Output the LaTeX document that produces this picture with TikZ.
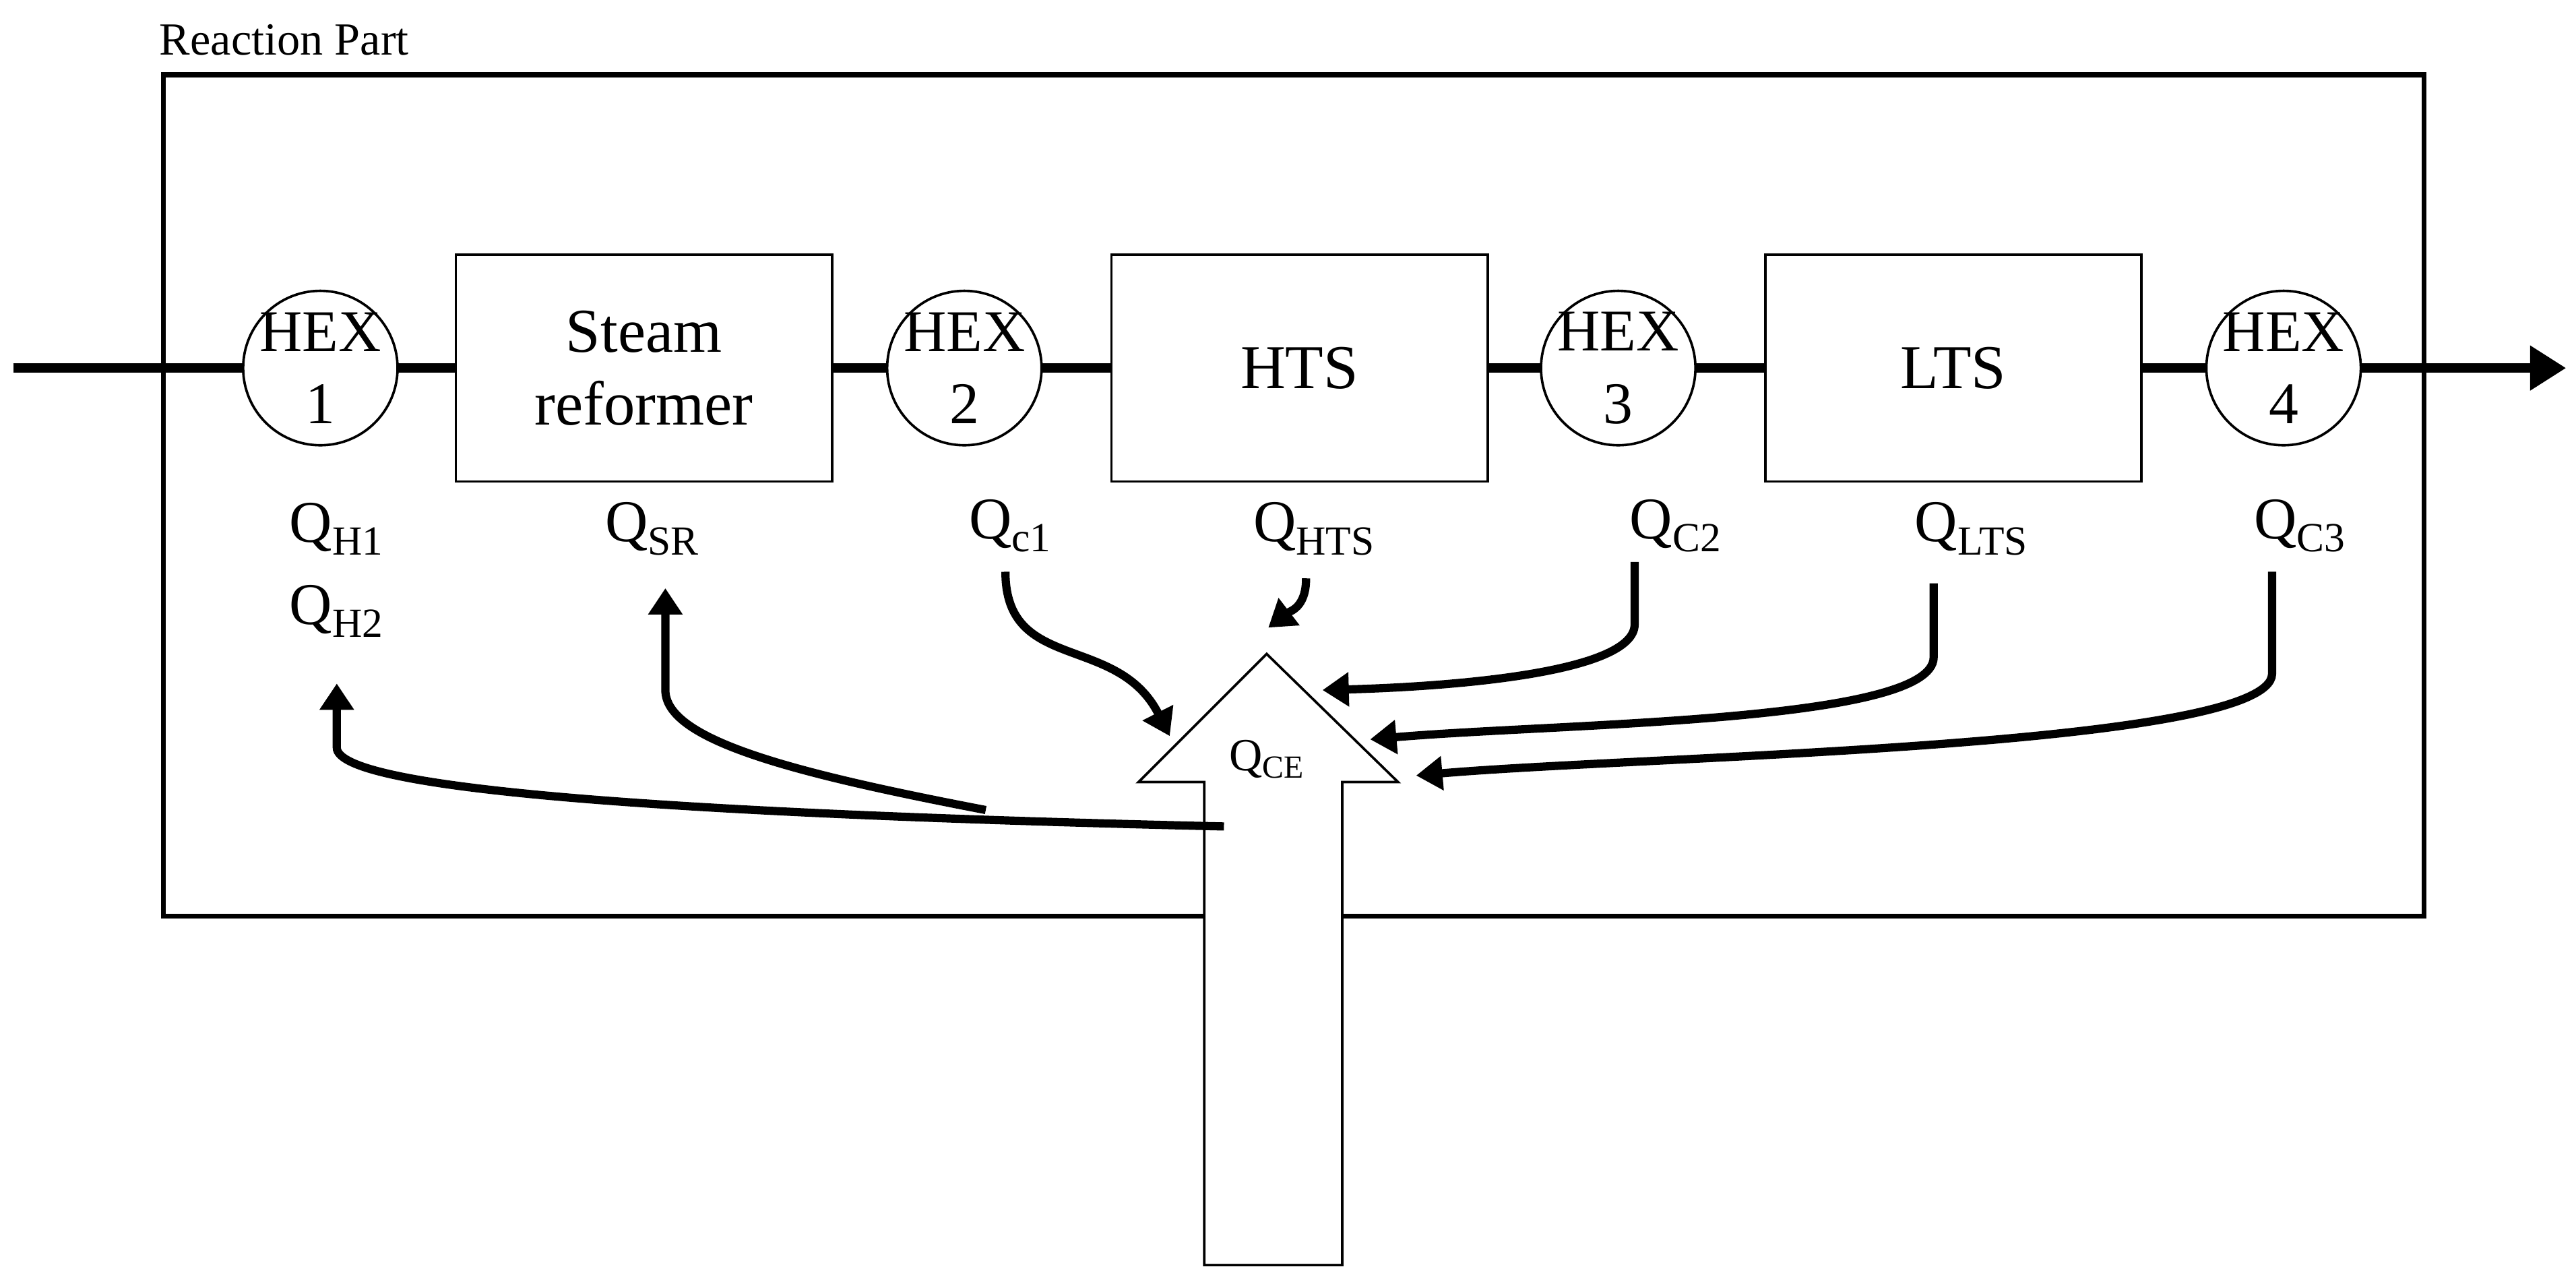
\documentclass[tikz,border=0pt]{standalone}
\usepackage{fontspec}
\setmainfont{Liberation Serif}
\usetikzlibrary{arrows.meta}
\begin{document}
\begin{tikzpicture}[x=1pt,y=-1pt,
 hex/.style={circle,draw,line width=1.5pt,fill=white,minimum size=94pt,inner sep=-8pt,align=center,font=\fontsize{36}{44}\selectfont},
 box/.style={draw,line width=1.5pt,fill=white,minimum width=229pt,minimum height=138pt,align=center,font=\fontsize{38}{44}\selectfont},
 q/.style={font=\fontsize{36}{40}\selectfont},
 flow/.style={line width=6pt,-{Triangle[length=22pt,width=26pt]}},
 heat/.style={line width=5pt,-{Triangle[length=16pt,width=20pt]}}]
\useasboundingbox (0,0) rectangle (1568,776);
\node[anchor=south west,font=\fontsize{28}{30}\selectfont,inner sep=0pt] (title) at (97,34) {Reaction Part};
\node[draw,line width=3pt,minimum width=1376pt,minimum height=512pt,anchor=north west] (frame) at (98,44) {};
\coordinate (in) at (8,224); \coordinate (out) at (1562,224);
\draw[flow] (in) -- (out);
\node[hex] (h1) at (195,224) {HEX\\1};
\node[box] (sr) at (392,224) {Steam\\reformer};
\node[hex] (h2) at (587,224) {HEX\\2};
\node[box] (hts) at (791,224) {HTS};
\node[hex] (h3) at (985,224) {HEX\\3};
\node[box] (lts) at (1189,224) {LTS};
\node[hex] (h4) at (1390,224) {HEX\\4};
\node[q] (qh1) at (205,322) {Q\textsubscript{H1}};
\node[q] (qh2) at (205,372) {Q\textsubscript{H2}};
\node[q] (qsr) at (397,322) {Q\textsubscript{SR}};
\node[q] (qc1) at (615,320) {Q\textsubscript{c1}};
\node[q] (qhts) at (800,322) {Q\textsubscript{HTS}};
\node[q] (qc2) at (1020,320) {Q\textsubscript{C2}};
\node[q] (qlts) at (1200,322) {Q\textsubscript{LTS}};
\node[q] (qc3) at (1400,320) {Q\textsubscript{C3}};
\draw[line width=1.5pt,fill=white] (733,770) -- (733,476) -- (693,476) -- (771,398) -- (851,476) -- (817,476) -- (817,770) -- cycle;
\node[font=\fontsize{28}{30}\selectfont] (qce) at (771,462) {Q\textsubscript{CE}};
\coordinate (src) at (745,503);
\coordinate (br) at (600,493);
\draw[heat] (src) .. controls (400,495) and (205,480) .. (205,455) -- (205,416);
\draw[heat] (br) .. controls (480,470) and (405,450) .. (405,420) -- (405,358);
\draw[heat] (612,348) .. controls (612,410) and (680,385) .. (712,448);
\draw[heat] (795,352) .. controls (795,370) and (785,372) .. (772,382);
\draw[heat] (995,342) -- (995,380) .. controls (995,410) and (880,418) .. (805,420);
\draw[heat] (1177,355) -- (1177,400) .. controls (1177,440) and (950,440) .. (834,450);
\draw[heat] (1383,348) -- (1383,410) .. controls (1383,455) and (1000,460) .. (862,472);
\end{tikzpicture}
\end{document}
